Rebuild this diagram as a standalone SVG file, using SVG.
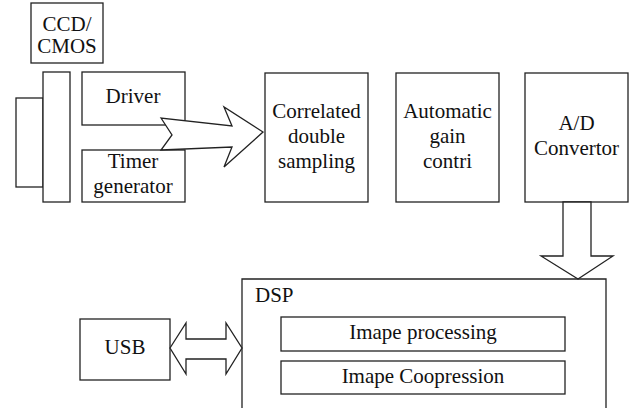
<svg xmlns="http://www.w3.org/2000/svg" width="630" height="408" viewBox="0 0 630 408" font-family="Liberation Serif, DejaVu Serif, serif">
<style>
.b{fill:#fff;stroke:#222;stroke-width:1.3}
.t{font-size:21px;fill:#111;text-anchor:middle}
</style>
<rect width="630" height="408" fill="#fff"/>
<g id="ccd-label"><rect class="b" x="31" y="3" width="72" height="60"/><text class="t" x="67" y="31">CCD/</text><text class="t" x="67" y="53">CMOS</text></g>
<g id="sensor"><rect class="b" x="16" y="98" width="27" height="89"/><rect class="b" x="43" y="72" width="27" height="130"/></g>
<g id="driver"><rect class="b" x="82" y="72" width="103" height="53"/><text class="t" x="133" y="103">Driver</text></g>
<g id="timer"><rect class="b" x="82" y="150" width="103" height="52"/><text class="t" x="133" y="168">Timer</text><text class="t" x="133" y="193">generator</text></g>
<g id="cds"><rect class="b" x="265" y="73" width="103" height="129"/><text class="t" x="316.5" y="118">Correlated</text><text class="t" x="316.5" y="143">double</text><text class="t" x="316.5" y="168">sampling</text></g>
<g id="agc"><rect class="b" x="396" y="73" width="103" height="129"/><text class="t" x="447.5" y="118">Automatic</text><text class="t" x="447.5" y="143">gain</text><text class="t" x="447.5" y="168">contri</text></g>
<g id="adc"><rect class="b" x="525" y="73" width="103" height="129"/><text class="t" x="576.5" y="130">A/D</text><text class="t" x="576.5" y="155">Convertor</text></g>
<g id="dsp"><path class="b" d="M242,410 V279 H606 V410"/><text class="t" x="255" y="302" style="text-anchor:start">DSP</text>
<rect class="b" x="281" y="317" width="284" height="34"/><text class="t" x="423" y="339">Imape processing</text>
<rect class="b" x="281" y="361" width="284" height="33"/><text class="t" x="423" y="383">Imape Coopression</text></g>
<g id="usb"><rect class="b" x="80" y="319" width="90" height="61"/><text class="t" x="125" y="354">USB</text></g>
<g id="connectors">
<polygon class="b" points="161,118 172,135 161,150 232,147 224,167 263,132 224,107 232,126"/>
<polygon class="b" points="563,202 591,202 591,256 613,256 578,279 541,256 563,256"/>
<polygon class="b" points="170,348 186,323 186,339 226,339 226,323 242,348 226,374 226,359 186,359 186,374"/>
</g>
</svg>
